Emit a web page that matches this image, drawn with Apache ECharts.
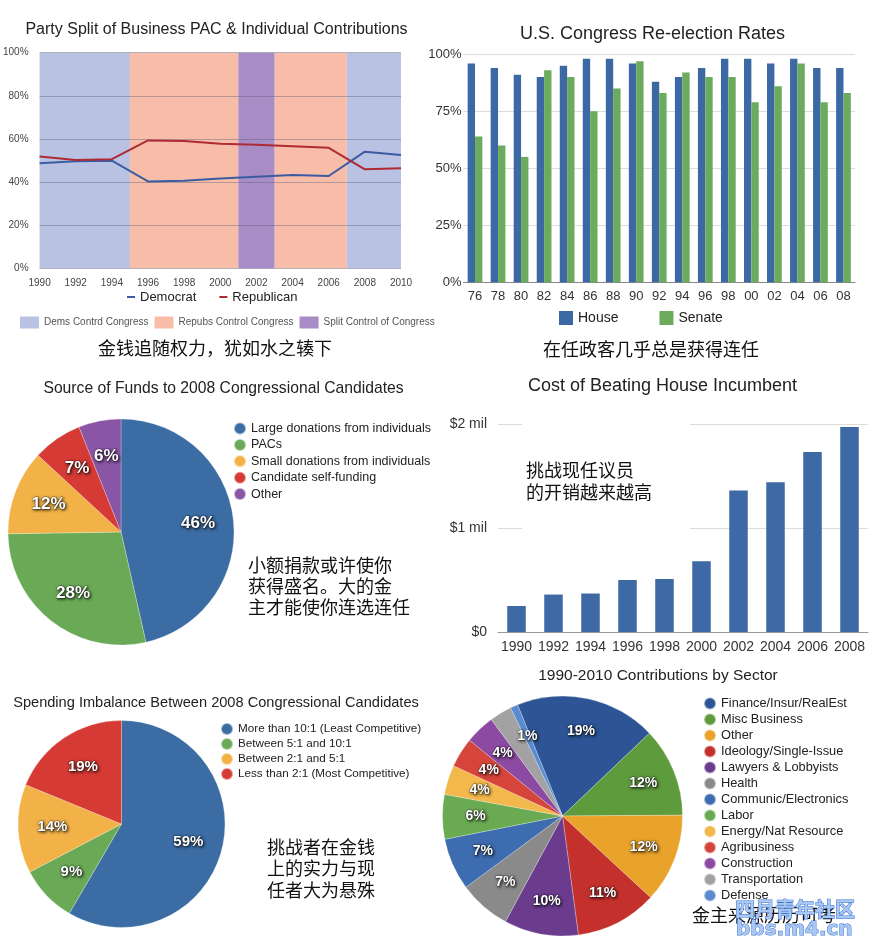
<!DOCTYPE html>
<html>
<head>
<meta charset="utf-8">
<script src="https://cdn.jsdelivr.net/npm/echarts@6/dist/echarts.min.js"></script>
<style>html,body{margin:0;padding:0;background:#fff}#c{width:879px;height:951px}</style>
</head>
<body>
<div id="c"></div>
<script>
// ---------- Panel 1: Party split ----------
const splitYears = [1990, 1992, 1994, 1996, 1998, 2000, 2002, 2004, 2006, 2008, 2010];
const democrat   = [48.7, 49.6, 49.9, 40.3, 40.6, 41.6, 42.5, 43.3, 42.8, 54.1, 52.5];
const republican = [51.8, 50.2, 50.6, 59.3, 59.0, 57.8, 57.3, 56.6, 55.9, 45.9, 46.4];
const controlNames = ['Dems Contrd Congress', 'Repubs Control Congress', 'Split Control of Congress'];
const controlPeriods = [[1990, 1995, 0], [1995, 2001, 1], [2001, 2003, 2], [2003, 2007, 1], [2007, 2010, 0]];
const splitTicks = [0, 20, 40, 60, 80, 100];

// ---------- Panel 2: Re-election rates ----------
const reelectYears = ['76', '78', '80', '82', '84', '86', '88', '90', '92', '94', '96', '98', '00', '02', '04', '06', '08'];
const houseRates  = [96, 94, 91, 90, 95, 98, 98, 96, 88, 90, 94, 98, 98, 96, 98, 94, 94];
const senateRates = [64, 60, 55, 93, 90, 75, 85, 97, 83, 92, 90, 90, 79, 86, 96, 79, 83];

// ---------- Panel 3: Source of funds ----------
const fundSources = ['Large donations from individuals', 'PACs', 'Small donations from individuals', 'Candidate self-funding', 'Other'];
const fundShares  = [46, 28, 12, 7, 6];

// ---------- Panel 4: Cost of beating incumbent ----------
const costYears    = ['1990', '1992', '1994', '1996', '1998', '2000', '2002', '2004', '2006', '2008'];
const costMillions = [0.25, 0.36, 0.37, 0.50, 0.51, 0.68, 1.36, 1.44, 1.73, 1.97];

// ---------- Panel 5: Spending imbalance ----------
const imbalanceNames  = ['More than 10:1 (Least Competitive)', 'Between 5:1 and 10:1', 'Between 2:1 and 5:1', 'Less than 2:1 (Most Competitive)'];
const imbalanceShares = [59, 9, 14, 19];

// ---------- Panel 6: Contributions by sector ----------
const sectorNames  = ['Finance/Insur/RealEst', 'Misc Business', 'Other', 'Ideology/Single-Issue', 'Lawyers & Lobbyists', 'Health', 'Communic/Electronics', 'Labor', 'Energy/Nat Resource', 'Agribusiness', 'Construction', 'Transportation', 'Defense'];
const sectorShares = [19, 12, 12, 11, 10, 7, 7, 6, 4, 4, 4, 3, 1];

// ---------- styles ----------
const bandColors = ['#b9c2e3', '#f8bda9', '#a78cc6'];
const fundColors = ['#3b6ca4', '#6aaa56', '#f2b248', '#d63a34', '#8b55a6'];
const imbColors = ['#3b6ca4', '#6aaa56', '#f2b248', '#d63a34'];
const sectorColors = ['#2d5596', '#5e9b3d', '#e9a32b', '#c4302c', '#6b3c8e', '#8a8a8a', '#3e6cb0', '#6aaa52', '#f2b84c', '#d6453c', '#8c4aa2', '#a2a2a2', '#5a8ad0'];
const CJK = '"Noto Sans CJK SC", sans-serif';

const pieLabel = (size) => ({
  show: true, position: 'inside', formatter: '{c}%', color: '#fff', fontWeight: 'bold', fontSize: size,
  textShadowColor: 'rgba(0,0,0,0.8)', textShadowBlur: 3, textShadowOffsetX: 1, textShadowOffsetY: 1,
  textBorderColor: 'rgba(30,30,30,0.45)', textBorderWidth: 1
});
function pieData(names, vals, colors) {
  return names.map((n, i) => ({ name: n, value: vals[i], itemStyle: colors ? { color: colors[i] } : undefined }));
}
function piePair(names, vals, colors, center, r, k, start, fs) {
  return [
    { type: 'pie', center: center, radius: [0, r], startAngle: start, silent: true,
      label: { show: false }, labelLine: { show: false },
      itemStyle: { borderColor: 'rgba(255,255,255,0.5)', borderWidth: 0.5 },
      data: pieData(names, vals, colors) },
    { type: 'pie', center: center, radius: [(2 * k - 1) * r, r], startAngle: start, silent: true, z: 5,
      itemStyle: { color: 'rgba(0,0,0,0)' }, label: pieLabel(fs), labelLine: { show: false },
      data: pieData(names, vals, null) }
  ];
}
function title(text, x, y, size) {
  return { text: text, left: x, top: y, textAlign: 'center', textVerticalAlign: 'middle', padding: 0,
    textStyle: { fontSize: size, fontWeight: 'normal', color: '#222' } };
}
function legendItems(names, colors) { return names.map((n, i) => ({ name: n, itemStyle: { color: colors[i] } })); }

const bandSeries = controlNames.map((nm, k) => ({
  type: 'line', name: nm, xAxisIndex: 0, yAxisIndex: 0, data: [], color: bandColors[k],
  itemStyle: { color: bandColors[k] },
  markArea: { silent: true, z: 1, itemStyle: { color: bandColors[k] },
    data: controlPeriods.filter(p => p[2] === k).map(p => [{ xAxis: p[0], yAxis: 0 }, { xAxis: p[1], yAxis: 100 }]) }
}));

const option = {
  animation: false,
  textStyle: { fontFamily: '"Liberation Sans", Arial, sans-serif' },
  title: [
    title('Party Split of Business PAC & Individual Contributions', 216.5, 30, 16),
    title('U.S. Congress Re-election Rates', 652.5, 34, 18),
    title('Source of Funds to 2008 Congressional Candidates', 223.5, 389, 15.7),
    title('Cost of Beating House Incumbent', 662.5, 386, 18),
    title('Spending Imbalance Between 2008 Congressional Candidates', 216, 702.5, 14.6),
    title('1990-2010 Contributions by Sector', 658, 675.5, 15.5)
  ],
  legend: [
    { data: ['Democrat', 'Republican'], left: 127, top: 290.5, padding: 0, icon: 'rect', itemWidth: 8, itemHeight: 2, itemGap: 23,
      textStyle: { fontSize: 13, color: '#222' } },
    { data: controlNames, left: 20, top: 316.5, padding: 0, icon: 'rect', itemWidth: 19, itemHeight: 12, itemGap: 6,
      textStyle: { fontSize: 10, color: '#555' } },
    { data: ['House', 'Senate'], left: 559, top: 311, padding: 0, icon: 'rect', itemWidth: 14, itemHeight: 14, itemGap: 41,
      textStyle: { fontSize: 14, color: '#222' } },
    { data: legendItems(fundSources, fundColors), orient: 'vertical', left: 233, top: 421.5, padding: 0,
      icon: 'circle', itemWidth: 12, itemHeight: 12, itemGap: 2.4, textStyle: { fontSize: 12.5, lineHeight: 13, color: '#222' } },
    { data: legendItems(imbalanceNames, imbColors), orient: 'vertical', left: 220, top: 722, padding: 0,
      icon: 'circle', itemWidth: 12, itemHeight: 12, itemGap: 1, textStyle: { fontSize: 11.7, lineHeight: 12, color: '#222' } },
    { data: legendItems(sectorNames, sectorColors), orient: 'vertical', left: 703, top: 696.5, padding: 0,
      icon: 'circle', itemWidth: 12, itemHeight: 12, itemGap: 2, textStyle: { fontSize: 12.8, lineHeight: 13, color: '#222' } }
  ],
  grid: [
    { left: 38, right: 478, top: 52.7, bottom: 951 - 268.3 },
    { left: 463.5, right: 24, top: 54.3, bottom: 951 - 282.3 },
    { left: 498, right: 11, top: 424, bottom: 951 - 632 }
  ],
  xAxis: [
    { gridIndex: 0, type: 'value', min: 1990, max: 2010, interval: 2, splitLine: { show: false },
      axisLine: { show: false }, axisTick: { show: false },
      axisLabel: { fontSize: 10, color: '#444', margin: 10, formatter: v => String(v) } },
    { gridIndex: 1, type: 'category', data: reelectYears, axisTick: { show: false },
      axisLine: { lineStyle: { color: '#888' } }, axisLabel: { fontSize: 13, color: '#333', margin: 8, interval: 0 } },
    { gridIndex: 2, type: 'category', data: costYears, axisTick: { show: false },
      axisLine: { lineStyle: { color: '#999' } }, axisLabel: { fontSize: 14, color: '#333', margin: 8, interval: 0 } }
  ],
  yAxis: [
    { gridIndex: 0, type: 'value', min: splitTicks[0], max: splitTicks[splitTicks.length - 1], interval: 20, z: 2,
      axisLine: { show: false }, axisTick: { show: false },
      axisLabel: { formatter: '{value}%', fontSize: 10, color: '#444', margin: 11 },
      splitLine: { lineStyle: { color: 'rgba(100,100,125,0.45)' } } },
    { gridIndex: 1, type: 'value', min: 0, max: 100, interval: 25,
      axisLine: { show: false }, axisTick: { show: false },
      axisLabel: { formatter: '{value}%', fontSize: 13, color: '#333', margin: 2 },
      splitLine: { lineStyle: { color: '#dcdcdc' } } },
    { gridIndex: 2, type: 'value', min: 0, max: 2, interval: 1,
      axisLine: { show: false }, axisTick: { show: false },
      axisLabel: { formatter: v => v === 0 ? '$0' : '$' + v + ' mil', fontSize: 14, color: '#333', margin: 11 },
      splitLine: { lineStyle: { color: '#dcdcdc' } } }
  ],
  series: [
    { type: 'line', name: 'Democrat', xAxisIndex: 0, yAxisIndex: 0, z: 3, showSymbol: false, color: '#3c5ca2',
      lineStyle: { width: 2 }, data: splitYears.map((y, i) => [y, democrat[i]]) },
    { type: 'line', name: 'Republican', xAxisIndex: 0, yAxisIndex: 0, z: 3, showSymbol: false, color: '#ae2a35',
      lineStyle: { width: 2 }, data: splitYears.map((y, i) => [y, republican[i]]) },
    ...bandSeries,
    { type: 'bar', name: 'House', xAxisIndex: 1, yAxisIndex: 1, data: houseRates, color: '#3c68a4',
      barGap: '0%', barCategoryGap: '36%' },
    { type: 'bar', name: 'Senate', xAxisIndex: 1, yAxisIndex: 1, data: senateRates, color: '#6cab5e',
      barGap: '0%', barCategoryGap: '36%' },
    { type: 'bar', name: 'Cost', xAxisIndex: 2, yAxisIndex: 2, data: costMillions, color: '#3d69a4', barWidth: '50%' },
    ...piePair(fundSources, fundShares, fundColors, [121, 532], 113, 0.66, 90, 17),
    ...piePair(imbalanceNames, imbalanceShares, imbColors, [121.5, 824], 103.5, 0.64, 90, 15),
    ...piePair(sectorNames, sectorShares, sectorColors, [562.5, 816], 120, 0.70, 112, 14)
  ],
  graphic: [
    { type: 'rect', z: 1, shape: { x: 522, y: 412, width: 168, height: 133 }, style: { fill: '#fff' } },
    { type: 'text', z: 10, x: 98, y: 348, style: { text: '金钱追随权力，犹如水之辏下', font: '18px ' + CJK, fill: '#111', verticalAlign: 'middle' } },
    { type: 'text', z: 10, x: 543, y: 349, style: { text: '在任政客几乎总是获得连任', font: '18px ' + CJK, fill: '#111', verticalAlign: 'middle' } },
    { type: 'text', z: 10, x: 248, y: 554.5, style: { text: '小额捐款或许使你\n获得盛名。大的金\n主才能使你连选连任', font: '18px ' + CJK, lineHeight: 21, fill: '#111', verticalAlign: 'top' } },
    { type: 'text', z: 10, x: 526, y: 459, style: { text: '挑战现任议员\n的开销越来越高', font: '18px ' + CJK, lineHeight: 22, fill: '#111', verticalAlign: 'top' } },
    { type: 'text', z: 10, x: 267, y: 836, style: { text: '挑战者在金钱\n上的实力与现\n任者大为悬殊', font: '18px ' + CJK, lineHeight: 21.5, fill: '#111', verticalAlign: 'top' } },
    { type: 'text', z: 10, x: 692, y: 915, style: { text: '金主来源历历可考', font: '18px ' + CJK, fill: '#111', verticalAlign: 'middle' } },
    { type: 'text', z: 11, x: 735, y: 909, style: { text: '四月青年社区', font: 'bold 20px ' + CJK, fill: '#a9c7f3', stroke: '#3f74d0', lineWidth: 1, verticalAlign: 'middle' } },
    { type: 'text', z: 11, x: 736, y: 930, style: { text: 'bbs.m4.cn', font: 'bold 20px "DejaVu Sans"', fill: '#a9c7f3', stroke: '#3f74d0', lineWidth: 1, verticalAlign: 'middle' } }
  ]
};

const chart = echarts.init(document.getElementById('c'));
chart.setOption(option);
</script>
</body>
</html>
